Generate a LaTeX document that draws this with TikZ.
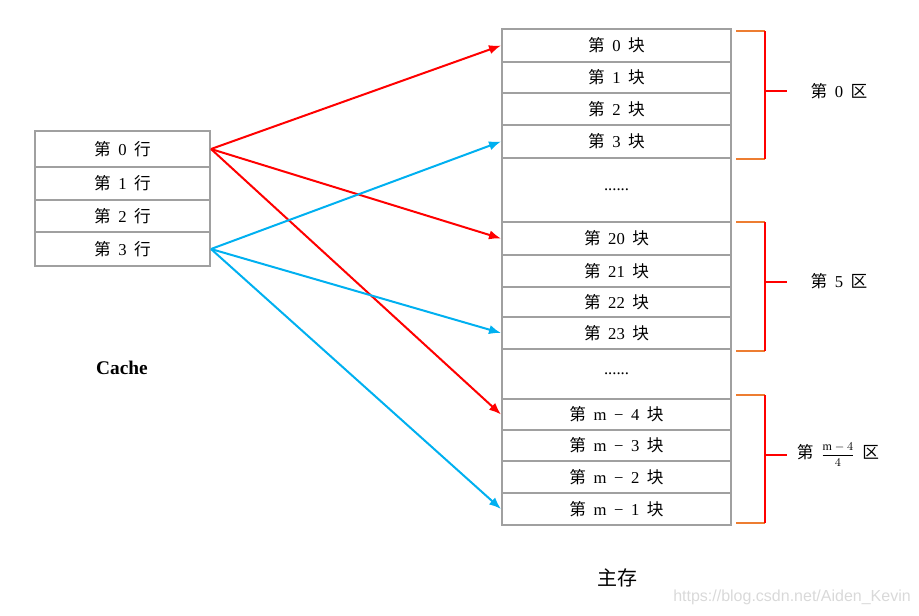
\documentclass[tikz,border=0pt]{standalone}
\usepackage{fontspec}
\setmainfont{Liberation Serif}
\newfontfamily\cjk{Noto Sans CJK SC}
\newfontfamily\marksans{Liberation Sans}
\usetikzlibrary{arrows.meta}
\definecolor{boxgray}{RGB}{160, 160, 160}
\definecolor{linkred}{RGB}{255, 0, 0}
\definecolor{linkblue}{RGB}{0, 176, 240}
\definecolor{tickorange}{RGB}{237, 125, 49}
\newcommand{\zh}[1]{{\cjk #1}}
\newcommand{\gap}{\hspace{0.45em}}

\tikzset{
  row/.style={draw=boxgray, line width=1.5pt, rectangle, inner sep=0,
              font=\fontsize{12.5}{14}\selectfont},
  link/.style={line width=1.5pt, -{Latex[length=9pt, width=7pt]}},
  zone/.style={font=\fontsize{12.5}{14}\selectfont},
}

\begin{document}
\begin{tikzpicture}[x=0.75pt, y=-0.75pt]
  \useasboundingbox (0, 0) rectangle (919, 615);

  % cache
  \foreach \n/\y/\h in {0/149/36, 1/183.5/33, 2/216/32, 3/249/34} {
    \node[row, minimum width=175*0.75pt, minimum height=\h*0.75pt] (c\n)
      at (122.5, \y) {\zh{第}\gap\n\gap\zh{行}};
  }

  % main memory
  \foreach \n/\y/\h/\t in {0/45.5/33/0, 1/77.5/31/1, 2/109/32/2, 3/141.5/33/3,
                           20/238.5/33/20, 21/271/32/21, 22/302/30/22, 23/333/32/23,
                           m4/414.5/31/m\gap−\gap4, m3/445.5/31/m\gap−\gap3,
                           m2/477/32/m\gap−\gap2, m1/509/32/m\gap−\gap1} {
    \node[row, minimum width=229*0.75pt, minimum height=\h*0.75pt] (b\n)
      at (616.5, \y) {\zh{第}\gap\t\gap\zh{块}};
  }
  \node[row, minimum width=229*0.75pt, minimum height=64*0.75pt] (d0) at (616.5, 190) {......};
  \node[row, minimum width=229*0.75pt, minimum height=50*0.75pt] (d1) at (616.5, 374) {......};

  % zones
  \foreach \top/\bot/\mid in {31/159/91, 222/351/282, 395/523/455} {
    \draw[tickorange, line width=1.5pt] (736, \top) -- (765, \top);
    \draw[tickorange, line width=1.5pt] (736, \bot) -- (765, \bot);
    \draw[linkred, line width=1.5pt] (765, \top) -- (765, \bot);
    \draw[linkred, line width=1.5pt] (765, \mid) -- (787, \mid);
  }
  \node[zone] (z0) at (839, 91) {\zh{第}\gap0\gap\zh{区}};
  \node[zone] (z5) at (839, 281) {\zh{第}\gap5\gap\zh{区}};
  \node[zone] (zm) at (838, 455)
    {\zh{第}\gap{\fontsize{9}{10}\selectfont$\displaystyle\frac{\mathrm{m}-4}{4}$}\gap\zh{区}};

  % mapping
  \foreach \b in {0, 20, m4} {
    \draw[link, linkred] (c0.east) -- (b\b.west);
  }
  \foreach \b in {3, 23, m1} {
    \draw[link, linkblue] (c3.east) -- (b\b.west);
  }

  \node[font=\fontsize{14.5}{16}\selectfont\bfseries] (cache) at (122, 368) {Cache};
  \node[font=\fontsize{15}{17}\selectfont\cjk] (mem) at (617, 578) {主存};
  \node[font=\fontsize{12}{13}\selectfont\marksans, text=gray!30] (mark) at (792, 597)
    {https://blog.csdn.net/Aiden\_Kevin};
\end{tikzpicture}
\end{document}
